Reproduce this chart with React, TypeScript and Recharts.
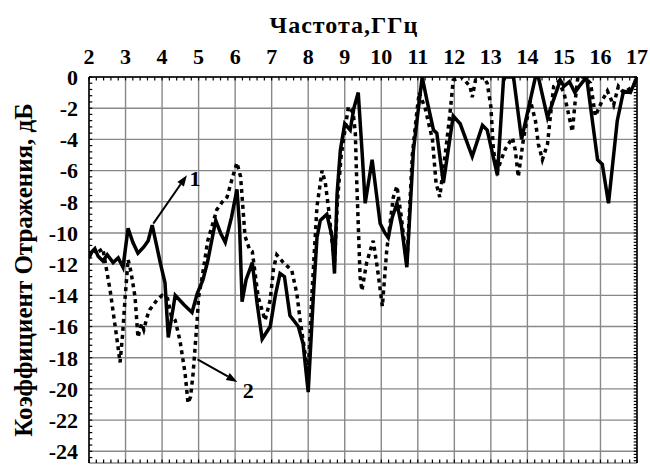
import { LineChart, Line, XAxis, YAxis, CartesianGrid, ReferenceLine, ReferenceDot } from "recharts";

// Frequency axis (GHz) and reflection axis (dB)
const FREQ_TICKS = [2, 3, 4, 5, 6, 7, 8, 9, 10, 11, 12, 13, 14, 15, 16, 17];
const DB_TICKS = [0, -2, -4, -6, -8, -10, -12, -14, -16, -18, -20, -22, -24];
const DB_MIN = -24.75;

// Curve 1 (solid)
const solidFreq = [
  2.0, 2.08, 2.16, 2.25, 2.38, 2.5, 2.66, 2.8, 2.93, 3.07, 3.2, 3.34, 3.5, 3.62, 3.73, 3.85, 3.95, 4.08,
  4.17, 4.25, 4.36, 4.6, 4.82, 4.96, 5.12, 5.25, 5.4, 5.47, 5.6, 5.73, 5.9, 6.05, 6.12, 6.19, 6.3, 6.47,
  6.6, 6.74, 6.96, 7.1, 7.23, 7.35, 7.5, 7.73, 7.86, 8.0, 8.14, 8.24, 8.33, 8.51, 8.65, 8.72, 8.79, 8.88,
  9.0, 9.15, 9.25, 9.37, 9.48, 9.56, 9.75, 9.97, 10.1, 10.19, 10.3, 10.43, 10.55, 10.7, 10.88, 11.12,
  11.25, 11.43, 11.52, 11.7, 11.97, 12.16, 12.49, 12.77, 12.9, 13.18, 13.35, 13.62, 13.84, 14.03, 14.22,
  14.3, 14.55, 14.9, 15.0, 15.15, 15.3, 15.45, 15.62, 15.92, 16.05, 16.22, 16.46, 16.63, 16.82, 17.0,
];
const solidDb = [
  -11.6, -11.2, -11.0, -11.5, -11.8, -11.4, -11.9, -11.6, -12.2, -9.7, -10.6, -11.3, -10.9, -10.5, -9.5,
  -10.8, -11.9, -13.2, -16.7, -15.6, -14.0, -14.6, -15.1, -13.9, -13.0, -11.8, -10.0, -9.2, -10.0, -10.6,
  -9.0, -7.2, -9.5, -14.4, -13.0, -11.9, -14.5, -16.8, -16.0, -14.0, -12.6, -12.8, -15.3, -16.0, -17.1,
  -20.2, -14.1, -10.3, -9.2, -8.8, -10.2, -12.6, -7.5, -4.7, -3.0, -3.4, -2.0, -1.0, -5.0, -8.1, -5.3,
  -9.4, -10.0, -10.3, -9.0, -8.1, -9.5, -12.2, -4.7, 0, -1.5, -3.4, -3.6, -6.8, -2.5, -3.0, -5.1, -3.1,
  -3.4, -6.3, 0, 0, -4.0, -2.0, 0, 0, -2.6, -0.2, -0.6, -0.3, -1.0, -0.5, 0, -5.3, -5.6, -8.1, -2.8,
  -0.9, -1.0, 0,
];

// Curve 2 (dotted)
const dottedFreq = [
  2.0, 2.1, 2.2, 2.38, 2.58, 2.77, 2.85, 2.92, 2.99, 3.07, 3.15, 3.26, 3.34, 3.44, 3.5, 3.6, 3.67, 3.86,
  4.0, 4.15, 4.25, 4.36, 4.49, 4.63, 4.71, 4.78, 4.85, 4.96, 5.0, 5.1, 5.25, 5.5, 5.65, 5.78, 5.92, 6.05,
  6.15, 6.27, 6.4, 6.47, 6.63, 6.82, 6.96, 7.05, 7.14, 7.32, 7.55, 7.69, 7.78, 7.9, 8.0, 8.1, 8.24, 8.38,
  8.47, 8.56, 8.65, 8.72, 8.8, 8.9, 9.1, 9.23, 9.29, 9.33, 9.42, 9.47, 9.6, 9.78, 9.89, 10.03, 10.15,
  10.33, 10.43, 10.55, 10.7, 10.85, 10.98, 11.04, 11.2, 11.4, 11.5, 11.6, 11.8, 11.9, 11.97, 12.2, 12.43,
  12.49, 12.58, 12.8, 12.9, 13.0, 13.07, 13.18, 13.3, 13.4, 13.59, 13.67, 13.75, 13.89, 14.08, 14.22,
  14.3, 14.41, 14.55, 14.63, 14.72, 14.85, 15.0, 15.1, 15.23, 15.31, 15.38, 15.55, 15.73, 15.86, 16.05,
  16.19, 16.36, 16.49, 16.63, 16.9, 17.0,
];
const dottedDb = [
  -11.4, -11.0, -11.3, -11.0, -13.7, -16.9, -18.3, -16.5, -14.1, -11.7, -12.5, -14.1, -16.7, -15.8, -16.2,
  -15.3, -14.9, -14.3, -14.0, -14.2, -15.3, -15.6, -16.9, -19.0, -20.9, -20.5, -19.0, -15.6, -14.1, -12.8,
  -10.5, -8.5, -8.0, -7.7, -6.5, -5.5, -6.4, -10.2, -11.1, -11.2, -14.1, -15.6, -14.3, -12.3, -11.4, -11.9,
  -12.4, -13.9, -15.6, -17.5, -19.0, -14.0, -8.3, -6.0, -6.8, -8.5, -10.5, -11.9, -8.0, -5.1, -1.9, -2.3,
  -3.6, -6.8, -12.8, -13.7, -11.9, -10.5, -12.2, -14.7, -11.1, -7.7, -7.0, -9.0, -12.0, -5.0, -2.1, -1.0,
  -2.0, -4.0, -6.8, -7.7, -4.0, -1.9, -0.2, 0, -0.6, -1.3, -0.2, 0, -0.4, -1.9, -4.7, -6.0, -5.2, -4.6,
  -3.9, -4.7, -6.4, -4.0, -1.5, -2.8, -4.3, -5.3, -4.3, -2.5, -0.6, -0.3, -1.0, -2.1, -3.5, -1.5, 0, 0,
  -0.4, -2.5, -1.5, -0.9, -1.8, -0.6, -1.0, -0.6, 0,
];

// Callouts: arrow from curve to its number
const arrow1 = [{ f: 3.76, db: -9.4 }, { f: 4.68, db: -6.3 }];
const label1 = { f: 4.9, db: -6.5, text: "1" };
const arrow2 = [{ f: 4.97, db: -18.1 }, { f: 6.06, db: -19.55 }];
const label2 = { f: 6.36, db: -20.1, text: "2" };

const solidData = solidFreq.map((f, i) => ({ f, db: solidDb[i] }));
const dottedData = dottedFreq.map((f, i) => ({ f, db: dottedDb[i] }));

const steps = (from: number, to: number, step: number) => {
  const n = Math.round((to - from) / step);
  return Array.from({ length: n + 1 }, (_, i) => Number((from + i * step).toFixed(2)));
};
// minor tick marks along the frame, drawn inward
const freqMinor = steps(2, 17, 0.2);
const dbMinorLeft = steps(-24.4, 0, 0.4);
const dbMinorRight = steps(-24.6, 0, 0.2);
const TICK_DB = 0.22;
const TICK_F = 0.09;

const FONT = "'Liberation Serif', 'Times New Roman', serif";
const tickStyle = { fill: "#000", fontSize: 22, fontWeight: 700, fontFamily: FONT };
const GRID = "#888888";

function Arrow(props: any) {
  const { x1, y1, x2, y2 } = props;
  const a = Math.atan2(y2 - y1, x2 - x1);
  const len = 11;
  const w = 4;
  const bx = x2 - len * Math.cos(a);
  const by = y2 - len * Math.sin(a);
  const px = -Math.sin(a) * w;
  const py = Math.cos(a) * w;
  return (
    <g>
      <line x1={x1} y1={y1} x2={bx} y2={by} stroke="#000" strokeWidth={2} />
      <polygon points={`${x2},${y2} ${bx + px},${by + py} ${bx - px},${by - py}`} fill="#000" />
    </g>
  );
}

const numberShape = (text: string) => (p: any) => (
  <text x={p.cx} y={p.cy} textAnchor="middle" dominantBaseline="central" fontSize={22} fontWeight={700} fontFamily={FONT} fill="#000">
    {text}
  </text>
);

const tickSeg = (key: string, a: { x: number; y: number }, b: { x: number; y: number }) => (
  <ReferenceLine key={key} segment={[a, b]} stroke="#000" strokeWidth={1.2} />
);

export default function App() {
  return (
    <div style={{ position: "absolute", left: 0, top: 0, width: 650, height: 466, background: "#fff" }}>
      <LineChart width={650} height={466} margin={{ top: 0, right: 13, bottom: 3, left: 0 }}>
        <CartesianGrid stroke={GRID} strokeWidth={1.4} />
        <XAxis
          dataKey="f"
          type="number"
          orientation="top"
          height={77}
          domain={[2, 17]}
          ticks={FREQ_TICKS}
          interval={0}
          allowDataOverflow
          axisLine={{ stroke: "#000", strokeWidth: 1.5 }}
          tickLine={false}
          tickSize={0}
          tickMargin={13}
          tick={tickStyle}
          label={{
            value: "Частота,ГГц",
            position: "insideTop",
            offset: 16,
            dx: -19,
            style: { fill: "#000", fontSize: 24, fontWeight: 700, fontFamily: FONT, letterSpacing: 1 },
          }}
        />
        <YAxis
          type="number"
          width={89}
          domain={[DB_MIN, 0]}
          ticks={DB_TICKS}
          interval={0}
          allowDataOverflow
          axisLine={{ stroke: "#000", strokeWidth: 1.5 }}
          tickLine={false}
          tickMargin={5}
          tick={tickStyle}
          label={{
            value: "Коэффициент Отражения, дБ",
            angle: -90,
            position: "insideLeft",
            offset: 23,
            style: { textAnchor: "middle", fill: "#000", fontSize: 25, fontWeight: 700, fontFamily: FONT },
          }}
        />

        <ReferenceLine x={17} stroke="#000" strokeWidth={1.5} />
        {freqMinor.map((f) => tickSeg(`t${f}`, { x: f, y: 0 }, { x: f, y: -TICK_DB }))}
        {freqMinor.map((f) => tickSeg(`b${f}`, { x: f, y: DB_MIN }, { x: f, y: DB_MIN + TICK_DB }))}
        {dbMinorLeft.map((d) => tickSeg(`l${d}`, { x: 2, y: d }, { x: 2 + TICK_F, y: d }))}
        {dbMinorRight.map((d) => tickSeg(`r${d}`, { x: 17, y: d }, { x: 17 - TICK_F, y: d }))}

        <Line data={dottedData} dataKey="db" type="linear" stroke="#000" strokeWidth={3.5} strokeDasharray="4 4" dot={false} isAnimationActive={false} />
        <Line data={solidData} dataKey="db" type="linear" stroke="#000" strokeWidth={3.5} dot={false} isAnimationActive={false} />

        <ReferenceLine segment={arrow1.map((p) => ({ x: p.f, y: p.db }))} shape={Arrow} />
        <ReferenceLine segment={arrow2.map((p) => ({ x: p.f, y: p.db }))} shape={Arrow} />
        <ReferenceDot x={label1.f} y={label1.db} r={0} shape={numberShape(label1.text)} />
        <ReferenceDot x={label2.f} y={label2.db} r={0} shape={numberShape(label2.text)} />
      </LineChart>
    </div>
  );
}
